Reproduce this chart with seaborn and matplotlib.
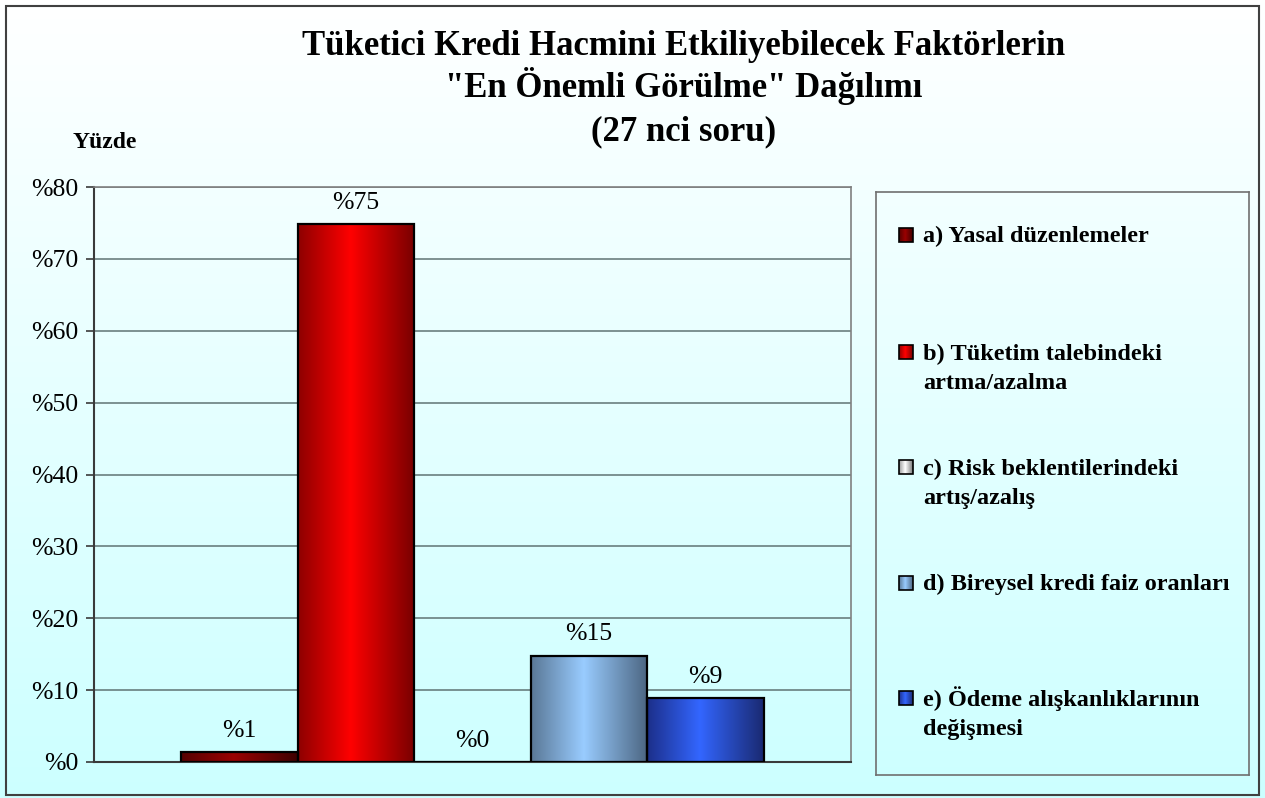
import numpy as np
import pandas as pd
import matplotlib
matplotlib.use('Agg')
import matplotlib.pyplot as plt
import seaborn as sns
from matplotlib.colors import LinearSegmentedColormap
from matplotlib.patches import Rectangle
from matplotlib.ticker import FuncFormatter

# data
factors = [
    "a) Yasal düzenlemeler",
    "b) Tüketim talebindeki\nartma/azalma",
    "c) Risk beklentilerindeki\nartış/azalış",
    "d) Bireysel kredi faiz oranları",
    "e) Ödeme alışkanlıklarının\ndeğişmesi",
]
percent = [1.4, 74.8, 0.0, 14.8, 8.9]
y_ticks = [0, 10, 20, 30, 40, 50, 60, 70, 80]
title_lines = [
    "Tüketici Kredi Hacmini Etkiliyebilecek Faktörlerin",
    "\"En Önemli Görülme\" Dağılımı",
    "(27 nci soru)",
]
y_title = "Yüzde"

# bar shading: left edge, centre, right edge
edge_left = ['#560000', '#8e0000', '#9a9a9a', '#5a7896', '#1c2f8a']
centre = ['#9a0000', '#ff0000', '#ffffff', '#99ccff', '#3366ff']
edge_right = ['#3e0000', '#780000', '#7a7a7a', '#4c6682', '#1a2a72']

sns.set_style("white")
plt.rcParams['font.family'] = ['Liberation Serif', 'DejaVu Serif']
plt.rcParams['text.color'] = 'black'
plt.rcParams['ytick.labelcolor'] = 'black'

W, H = 1265, 798
fig = plt.figure(figsize=(W / 100, H / 100), dpi=100)

# background gradient white -> light cyan
bg = fig.add_axes([0, 0, 1, 1], zorder=-10)
bg_cmap = LinearSegmentedColormap.from_list('bg', ['#ffffff', '#ccffff'])
bg.imshow(np.linspace(0, 1, 256).reshape(-1, 1), aspect='auto', cmap=bg_cmap,
          extent=[0, 1, 0, 1], origin='upper')
bg.axis('off')


def grad_cmap(i):
    return LinearSegmentedColormap.from_list(
        f'g{i}', [(0, edge_left[i]), (0.45, centre[i]), (1, edge_right[i])])


hstrip = np.linspace(0, 1, 128).reshape(1, -1)

# main axes
ax = fig.add_axes([94 / W, 1 - 762 / H, (851 - 94) / W, (762 - 187) / H])
ax.set_facecolor('none')

df = pd.DataFrame({"soru": ["27"] * len(factors), "faktor": factors, "yuzde": percent})
sns.barplot(data=df, x="soru", y="yuzde", hue="faktor", hue_order=factors,
            palette=centre, saturation=1, width=0.77, edgecolor='black',
            linewidth=1.6, legend=False, ax=ax)

for i, cont in enumerate(ax.containers):
    bar = cont[0]
    x0, w, h = bar.get_x(), bar.get_width(), bar.get_height()
    if h > 0:
        im = ax.imshow(hstrip, aspect='auto', cmap=grad_cmap(i),
                       extent=[x0, x0 + w, 0, h], zorder=2)
        im.set_clip_path(bar)
    bar.set_facecolor('none')
    bar.set_zorder(3)
    ax.annotate(f"%{round(percent[i])}", (x0 + w / 2, h), xytext=(0, 7.5),
                textcoords='offset points', ha='center', va='bottom',
                fontsize=18.5, color='black')

ax.set_xlim(-0.5, 0.5)
ax.set_ylim(0, 80)
ax.set_yticks(y_ticks)
ax.yaxis.set_major_formatter(FuncFormatter(lambda v, p: f"%{v:.0f}"))
ax.set_xticks([])
ax.set_xlabel('')
ax.set_ylabel('')
ax.yaxis.grid(True, color='#5f7474', lw=1.1)
ax.set_axisbelow(True)
ax.tick_params(axis='y', left=True, length=6, width=1.2, color='#3a3a3a',
               pad=5, labelsize=18.5, labelcolor='black')
for s in ['left', 'bottom']:
    ax.spines[s].set_color('#3a3a3a')
    ax.spines[s].set_linewidth(1.5)
for s in ['top', 'right']:
    ax.spines[s].set_color('#808080')
    ax.spines[s].set_linewidth(1.2)

# legend box, drawn in its own pixel-like coordinates
lx0, ly0, lx1, ly1 = 876, 192, 1249, 775
lax = fig.add_axes([lx0 / W, 1 - ly1 / H, (lx1 - lx0) / W, (ly1 - ly0) / H])
lax.set_facecolor('none')
lax.set_xticks([])
lax.set_yticks([])
for s in lax.spines.values():
    s.set_color('#707070')
    s.set_linewidth(1.2)

entry_base = [50, 167, 282, 398, 513]
line_gap = 30
for i, lab in enumerate(factors):
    yb = entry_base[i]
    sq = Rectangle((23, yb - 14), 14, 14, fill=False, ec='black', lw=1.2, zorder=3)
    lax.add_patch(sq)
    lax.imshow(hstrip, aspect='auto', cmap=grad_cmap(i),
               extent=[23, 37, yb, yb - 14], zorder=2)
    n_extra = lab.count("\n")
    lax.text(47, yb + line_gap * n_extra, lab, fontsize=17.5, fontweight='bold',
             ha='left', va='baseline', linespacing=1.52, color='black')
lax.set_xlim(0, lx1 - lx0)
lax.set_ylim(ly1 - ly0, 0)

# titles
for line, yb in zip(title_lines, [55, 97, 140]):
    fig.text(684 / W, 1 - yb / H, line, ha='center', va='baseline',
             fontsize=25, fontweight='bold', color='black')
fig.text(73 / W, 1 - 148 / H, y_title, ha='left', va='baseline',
         fontsize=17, fontweight='bold', color='black')

# outer frame
fig.add_artist(Rectangle((0.0045, 0.004), 0.991, 0.9885, transform=fig.transFigure,
                         fill=False, ec='#404040', lw=1.5))

fig.savefig('out.png', dpi=100)
